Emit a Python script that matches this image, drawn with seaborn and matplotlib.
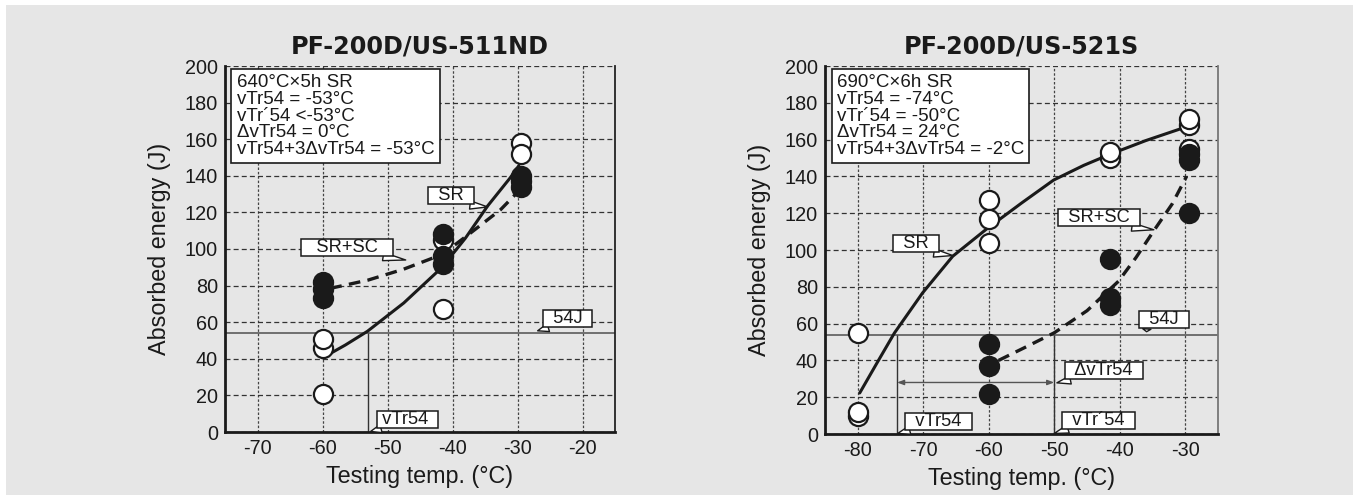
import numpy as np
import pandas as pd
import matplotlib
matplotlib.use("Agg")
import matplotlib.pyplot as plt
from matplotlib.patches import Rectangle
import seaborn as sns

# ---------------- data ----------------
titles = ["PF-200D/US-511ND", "PF-200D/US-521S"]

# Left panel: PF-200D/US-511ND
L_sr_x = [-60, -60, -60, -41.5, -41.5, -29.5, -29.5]
L_sr_y = [21, 46, 51, 105, 67, 158, 152]
L_sc_x = [-60, -60, -60, -41.5, -41.5, -41.5, -29.5, -29.5, -29.5]
L_sc_y = [73, 78, 82, 108, 96, 92, 140, 137, 134]
L_sr_curve_x = [-60, -56.5, -53.1, -47.5, -41.6, -38.0, -34.6, -31.1, -29.8]
L_sr_curve_y = [40.5, 47.5, 55.0, 70.5, 90.0, 106.0, 123.5, 139.0, 145.5]
L_sc_curve_x = [-58.8, -53.0, -47.5, -41.6, -37.5, -32.6, -30.0]
L_sc_curve_y = [78.5, 83.0, 89.0, 97.0, 108.0, 121.5, 131.0]

# Right panel: PF-200D/US-521S
R_sr_x = [-80, -80, -80, -60, -60, -60, -41.5, -41.5, -29.5, -29.5, -29.5]
R_sr_y = [55, 10, 12, 127, 117, 104, 150, 153, 168, 171, 155]
R_sc_x = [-60, -60, -60, -41.5, -41.5, -41.5, -29.5, -29.5, -29.5]
R_sc_y = [49, 37, 22, 95, 74, 70, 152, 149, 120]
R_sr_curve_x = [-79.7, -77.0, -74.4, -70.1, -65.5, -60.3, -55.0, -50.1, -45.5, -41.5, -36.0, -30.1]
R_sr_curve_y = [22.3, 39.0, 54.9, 76.7, 96.6, 111.5, 125.5, 138.0, 146.0, 152.0, 159.5, 166.6]
R_sc_curve_x = [-58.5, -54.5, -50.0, -45.0, -40.2, -37.5, -34.7, -32.0, -29.8]
R_sc_curve_y = [40.0, 47.0, 55.0, 67.0, 83.0, 96.0, 111.0, 125.0, 140.0]

threshold = 54
L_vtr = [-53]
R_vtr = [-74, -50]
R_delta_y = 28

info_texts = [
    "640°C×5h SR\nvTr54 = -53°C\nvTr´54 <-53°C\nΔvTr54 = 0°C\nvTr54+3ΔvTr54 = -53°C",
    "690°C×6h SR\nvTr54 = -74°C\nvTr´54 = -50°C\nΔvTr54 = 24°C\nvTr54+3ΔvTr54 = -2°C",
]
xlims = [(-75, -15), (-85, -25)]
xticks = [[-70, -60, -50, -40, -30, -20], [-80, -70, -60, -50, -40, -30]]
xminor = [[-65, -55, -45, -35, -25], [-75, -65, -55, -45, -35]]
yticks = list(range(0, 201, 20))

# callouts: (text, text_xy, tip_xy, relpos)
L_callouts = [
    ("  SR  ", (-40.2, 129), (-34.6, 123), (0.8, 0.0)),
    ("   SR+SC   ", (-56.2, 100.8), (-47.2, 94), (0.85, 0.0)),
    ("  54J  ", (-22.3, 62), (-26.9, 55.3), (0.15, 0.0)),
    (" vTr54  ", (-46.9, 6.8), (-52.6, 0.3), (0.1, 0.0)),
]
R_callouts = [
    ("  SR  ", (-71.1, 103.3), (-65.5, 97), (0.8, 0.0)),
    ("  SR+SC  ", (-43.2, 117.4), (-34.8, 111), (0.85, 0.0)),
    ("  54J  ", (-33.2, 62), (-35.9, 55.6), (0.15, 0.0)),
    ("  ΔvTr54  ", (-42.4, 34.3), (-49.6, 27.8), (0.1, 0.0)),
    ("  vTr´54  ", (-43.2, 7.6), (-50.0, 0.3), (0.1, 0.0)),
    ("  vTr54  ", (-67.7, 7.0), (-73.9, 0.3), (0.1, 0.0)),
]

# ---------------- style ----------------
sns.set_style("white")
plt.rcParams["font.family"] = ["Liberation Sans", "DejaVu Sans"]
plt.rcParams["axes.unicode_minus"] = False

fig = plt.figure(figsize=(13.59, 5.0), dpi=100, facecolor="white")
fig.patches.append(Rectangle((6 / 1359, 5 / 500), 1347 / 1359, 490 / 500,
                             transform=fig.transFigure, facecolor="#e6e6e6",
                             edgecolor="none", zorder=-10))

ax1 = fig.add_axes([225 / 1359, 68 / 500, 390 / 1359, 366 / 500])
ax2 = fig.add_axes([825 / 1359, 66 / 500, 393 / 1359, 368 / 500])

panels = [
    (ax1, L_sr_x, L_sr_y, L_sc_x, L_sc_y, L_sr_curve_x, L_sr_curve_y,
     L_sc_curve_x, L_sc_curve_y, L_vtr, L_callouts, "#222222"),
    (ax2, R_sr_x, R_sr_y, R_sc_x, R_sc_y, R_sr_curve_x, R_sr_curve_y,
     R_sc_curve_x, R_sc_curve_y, R_vtr, R_callouts, "#777777"),
]

for i, (ax, srx, sry, scx, scy, crx, cry, csx, csy, vtr, callouts, rcol) in enumerate(panels):
    ax.set_facecolor("#e6e6e6")
    ax.set_xlim(*xlims[i])
    ax.set_ylim(0, 200)
    ax.set_xticks(xticks[i])
    ax.set_yticks(yticks)
    ax.set_xticks(xminor[i], minor=True)
    ax.set_yticks(np.arange(10, 200, 20), minor=True)
    ax.tick_params(which="major", length=0, pad=5, labelsize=14.3, colors="#1a1a1a")
    ax.tick_params(which="minor", direction="in", length=5, width=1, color="#222222")
    ax.grid(True, axis="y", which="major", color="#333333", linestyle=(0, (4, 2.5)), lw=0.9, zorder=0.5)
    ax.grid(True, axis="x", which="major", color="#444444", linestyle=(0, (2, 1.5)), lw=0.9, zorder=0.5)
    ax.set_axisbelow(True)
    for s in ["left", "bottom"]:
        ax.spines[s].set_color("#1a1a1a")
        ax.spines[s].set_linewidth(2)
    ax.spines["top"].set_visible(False)
    ax.spines["right"].set_color(rcol)
    ax.spines["right"].set_linewidth(1.3)

    # threshold line and transition temps
    ax.axhline(threshold, color="#666666", lw=1.3, zorder=1)
    ax.vlines(vtr, 0, threshold, color="#333333", lw=1.0, zorder=1)

    # curves
    sns.lineplot(x=crx, y=cry, ax=ax, color="#1a1a1a", lw=2.2, estimator=None, sort=False, zorder=3)
    sns.lineplot(x=csx, y=csy, ax=ax, color="#1a1a1a", lw=2.4, estimator=None, sort=False,
                 linestyle=(0, (3.5, 2.2)), zorder=3)

    # points: open (SR) first, then filled (SR+SC)
    sns.scatterplot(x=srx, y=sry, ax=ax, s=190, color="white", edgecolor="#1a1a1a",
                    linewidth=1.6, zorder=4)
    sns.scatterplot(x=scx, y=scy, ax=ax, s=190, color="#1a1a1a", edgecolor="#1a1a1a",
                    linewidth=1.6, zorder=5)

    # labels
    ax.set_title(titles[i], fontsize=17.2, fontweight="bold", pad=9, color="#1a1a1a",
                 family=["DejaVu Sans"])
    ax.set_xlabel("Testing temp. (°C)", fontsize=16.8, labelpad=5, color="#1a1a1a")
    ax.set_ylabel("Absorbed energy (J)", fontsize=16.8, labelpad=10, color="#1a1a1a")

    # info box
    ax.text(0.03, 0.978, info_texts[i], transform=ax.transAxes, ha="left", va="top",
            fontsize=13.5, linespacing=0.98, color="#1a1a1a", zorder=6,
            bbox=dict(boxstyle="square,pad=0.28", fc="white", ec="#1a1a1a", lw=1.2))

    # callouts
    for txt, txy, tip, rp in callouts:
        ax.annotate(txt, xy=tip, xytext=txy, ha="center", va="center", fontsize=13.2,
                    color="#1a1a1a", zorder=7,
                    bbox=dict(boxstyle="square,pad=0.0", fc="white", ec="#1a1a1a", lw=1.1),
                    arrowprops=dict(arrowstyle="wedge,tail_width=0.45,shrink_factor=0.5",
                                    fc="white", ec="#1a1a1a", lw=1.0, relpos=rp,
                                    shrinkA=0, shrinkB=0))

# delta arrow on right panel
ax2.annotate("", xy=(R_vtr[0], R_delta_y), xytext=(R_vtr[1], R_delta_y), zorder=2,
             arrowprops=dict(arrowstyle="<|-|>,head_length=0.4,head_width=0.15",
                             color="#555555", lw=1.0, shrinkA=0, shrinkB=0))

fig.savefig("out.png", dpi=100, facecolor="white")
